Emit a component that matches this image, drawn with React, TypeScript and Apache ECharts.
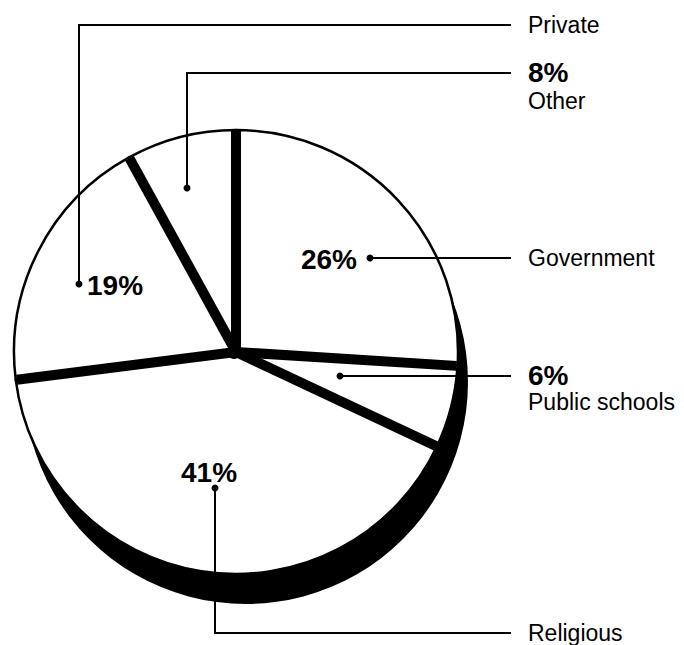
import React, { useEffect, useRef } from "react";
import * as echarts from "echarts";

const categories = ["Government", "Public schools", "Religious", "Private", "Other"];
const shares = [26, 6, 41, 19, 8];

// annotation layout (positions only; texts come from the arrays above)
const annotationLayout: Record<string, any> = {
  Government: { path: [[370, 258], [511, 258]], pct: { x: 357, y: 259, align: "right" }, name: { x: 528, y: 258 } },
  "Public schools": { path: [[340, 376], [511, 376]], pct: { x: 528, y: 375, align: "left" }, name: { x: 528, y: 402 } },
  Religious: { path: [[215, 488], [215, 633], [511, 633]], pct: { x: 209, y: 472, align: "center" }, name: { x: 528, y: 633 } },
  Private: { path: [[79, 284], [79, 25], [511, 25]], pct: { x: 87, y: 285, align: "left" }, name: { x: 528, y: 25 } },
  Other: { path: [[187, 188], [187, 73], [511, 73]], pct: { x: 528, y: 72, align: "left" }, name: { x: 528, y: 101 } },
};

const CX = 236;
const CY = 352;
const R = 222;

export default function App() {
  const ref = useRef<HTMLDivElement>(null);
  useEffect(() => {
    if (!ref.current) return;
    const chart = echarts.init(ref.current, undefined, { renderer: "svg" });
    const total = shares.reduce((a, b) => a + b, 0);
    const graphics: any[] = [];
    // thick separators between slices, computed from data
    let cum = 0;
    shares.forEach((v) => {
      const th = (cum / total) * Math.PI * 2;
      graphics.push({
        type: "line",
        z: 50,
        shape: { x1: CX, y1: CY, x2: CX + (R - 1) * Math.sin(th), y2: CY - (R - 1) * Math.cos(th) },
        style: { stroke: "#000", lineWidth: 10, lineCap: "butt" },
      });
      cum += v;
    });
    graphics.push({ type: "circle", z: 51, shape: { cx: CX - 2, cy: CY, r: 7 }, style: { fill: "#000" } });
    categories.forEach((c, i) => {
      const a = annotationLayout[c];
      graphics.push({
        type: "polyline",
        z: 60,
        shape: { points: a.path },
        style: { stroke: "#000", lineWidth: 2, fill: null },
      });
      graphics.push({
        type: "circle",
        z: 61,
        shape: { cx: a.path[0][0], cy: a.path[0][1], r: 3.5 },
        style: { fill: "#000" },
      });
      graphics.push({
        type: "text",
        z: 62,
        x: a.pct.x,
        y: a.pct.y,
        style: {
          text: `${shares[i]}%`,
          font: "bold 28px 'Liberation Sans', Arial, sans-serif",
          lineHeight: 24,
          fill: "#000",
          textAlign: a.pct.align,
          textVerticalAlign: "middle",
        },
      });
      graphics.push({
        type: "text",
        z: 62,
        x: a.name.x,
        y: a.name.y,
        style: {
          text: c,
          font: "23px 'Liberation Sans', Arial, sans-serif",
          lineHeight: 20,
          fill: "#000",
          textAlign: "left",
          textVerticalAlign: "middle",
        },
      });
    });

    chart.setOption({
      animation: false,
      backgroundColor: "#fff",
      series: [
        {
          type: "pie",
          silent: true,
          z: 1,
          center: [CX + 10, CY + 30],
          radius: R,
          label: { show: false },
          labelLine: { show: false },
          itemStyle: { color: "#000", borderWidth: 0 },
          data: [{ value: 1, name: "shadow" }],
        },
        {
          type: "pie",
          silent: true,
          z: 2,
          center: [CX, CY],
          radius: R,
          startAngle: 90,
          clockwise: true,
          label: { show: false },
          labelLine: { show: false },
          itemStyle: { color: "#fff", borderColor: "#000", borderWidth: 2.5 },
          data: categories.map((c, i) => ({ name: c, value: shares[i] })),
        },
      ],
      graphic: graphics,
    });
    return () => chart.dispose();
  }, []);
  return (
    <div
      ref={ref}
      style={{ position: "fixed", left: 0, top: 0, width: 684, height: 645, background: "#fff" }}
    />
  );
}
